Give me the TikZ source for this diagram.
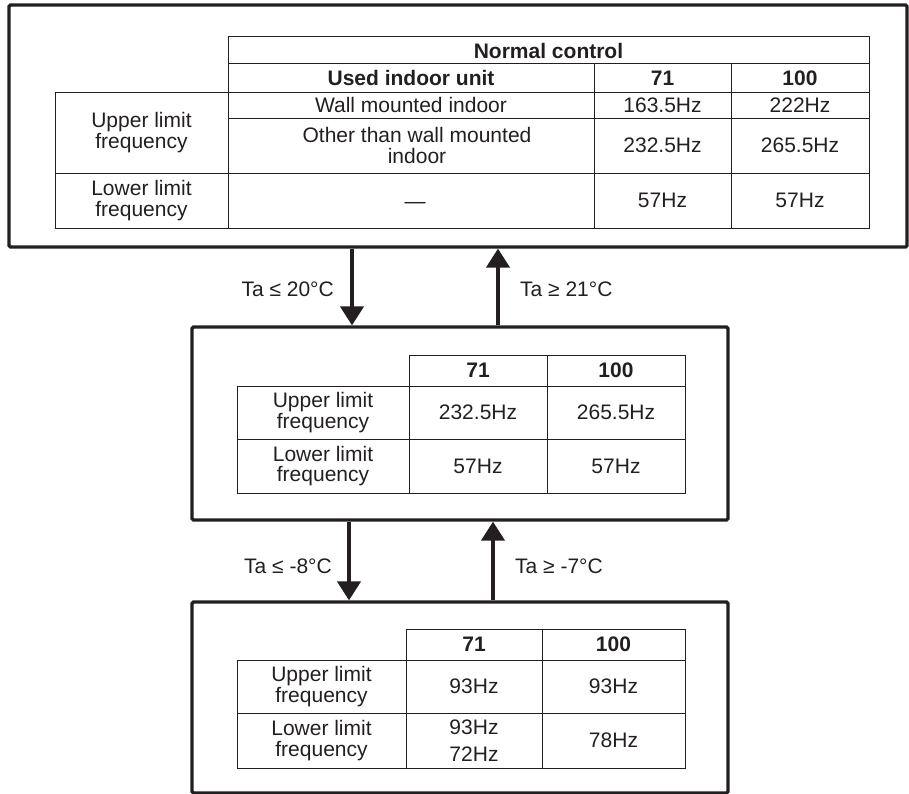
\documentclass[tikz,border=0pt]{standalone}
\usepackage{fontspec}
\setmainfont{Liberation Sans}
\usetikzlibrary{arrows.meta}

\definecolor{ink}{HTML}{231F20}

\tikzset{
  frame/.style={draw=ink, line width=3.2bp, rounded corners=1.5bp, minimum width=#1},
  grid/.style={draw=ink, line width=1bp},
  celltext/.style={align=center, inner sep=0pt, text=ink,
    font=\fontsize{21bp}{20.5bp}\selectfont},
  boldtext/.style={celltext, font=\fontsize{21bp}{20.5bp}\selectfont\bfseries},
  lbl/.style={inner sep=0pt, text=ink, font=\fontsize{21bp}{20.5bp}\selectfont},
  flow/.style={draw=ink, line width=4bp, -{Triangle[length=19bp, width=23bp]}},
}

% one table cell: name, x1, y1, x2, y2, content
\newcommand\tabcell[6]{%
  \draw[grid] (#2,#3) rectangle (#4,#5);
  \node[celltext] (#1) at ({(#2+#4)/2},{(#3+#5)/2}) {#6};}
\newcommand\headcell[6]{%
  \draw[grid] (#2,#3) rectangle (#4,#5);
  \node[boldtext] (#1) at ({(#2+#4)/2},{(#3+#5)/2}) {#6};}

\begin{document}
\begin{tikzpicture}[x=1bp, y=-1bp]
\useasboundingbox (0,0) rectangle (909,794);

% ---- state frames ----
\node[frame=898bp, minimum height=242bp] (top) at (458,126) {};
\node[frame=536bp, minimum height=193bp] (mid) at (460,423.5) {};
\node[frame=536bp, minimum height=191bp] (low) at (460,697.5) {};

% ---- normal control table ----
\headcell{nc}{228}{37}{869}{64}{Normal control}
\headcell{ui}{228}{64}{594}{92}{Used indoor unit}
\headcell{ta}{594}{64}{731}{92}{71}
\headcell{tb}{731}{64}{869}{92}{100}
\tabcell{tul}{55}{92}{228}{173}{Upper limit\\frequency}
\tabcell{twm}{228}{92}{594}{118}{Wall mounted indoor}
\tabcell{twa}{594}{92}{731}{118}{163.5Hz}
\tabcell{twb}{731}{92}{869}{118}{222Hz}
\draw[grid] (228,118) rectangle (594,173);
\node[celltext] (tot) at (417,145.5) {Other than wall mounted\\indoor};
\tabcell{toa}{594}{118}{731}{173}{232.5Hz}
\tabcell{tob}{731}{118}{869}{173}{265.5Hz}
\tabcell{tll}{55}{173}{228}{228}{Lower limit\\frequency}
\draw[grid] (228,173) rectangle (594,228);
\node[celltext] (tdash) at (415,205) {---};
\tabcell{tla}{594}{173}{731}{228}{57Hz}
\tabcell{tlb}{731}{173}{869}{228}{57Hz}

% ---- middle table ----
\headcell{ma}{409}{355}{547}{386}{71}
\headcell{mb}{547}{355}{685}{386}{100}
\tabcell{mul}{237}{386}{409}{439}{Upper limit\\frequency}
\tabcell{mua}{409}{386}{547}{439}{232.5Hz}
\tabcell{mub}{547}{386}{685}{439}{265.5Hz}
\tabcell{mll}{237}{439}{409}{493}{Lower limit\\frequency}
\tabcell{mla}{409}{439}{547}{493}{57Hz}
\tabcell{mlb}{547}{439}{685}{493}{57Hz}

% ---- low temperature table ----
\headcell{la}{406}{629}{542}{660}{71}
\headcell{lb}{542}{629}{685}{660}{100}
\tabcell{lul}{237}{660}{406}{713}{Upper limit\\frequency}
\tabcell{lua}{406}{660}{542}{713}{93Hz}
\tabcell{lub}{542}{660}{685}{713}{93Hz}
\tabcell{lll}{237}{713}{406}{768}{Lower limit\\frequency}
\tabcell{lla}{406}{713}{542}{768}{93Hz\\[6.5bp]72Hz}
\tabcell{llb}{542}{713}{685}{768}{78Hz}

% ---- transitions ----
\coordinate (d1) at (352,0);
\coordinate (u1) at (498,0);
\coordinate (d2) at (349,0);
\coordinate (u2) at (493,0);
\draw[flow] (d1 |- top.south) -- (d1 |- mid.north);
\draw[flow] (u1 |- mid.north) -- (u1 |- top.south);
\draw[flow] (d2 |- mid.south) -- (d2 |- low.north);
\draw[flow] (u2 |- low.north) -- (u2 |- mid.south);

\node[lbl, anchor=east] (c1) at (334,289) {Ta ≤ 20°C};
\node[lbl, anchor=west] (c2) at (520,289) {Ta ≥ 21°C};
\node[lbl, anchor=east] (c3) at (332,566) {Ta ≤ -8°C};
\node[lbl, anchor=west] (c4) at (515,566) {Ta ≥ -7°C};
\end{tikzpicture}
\end{document}
